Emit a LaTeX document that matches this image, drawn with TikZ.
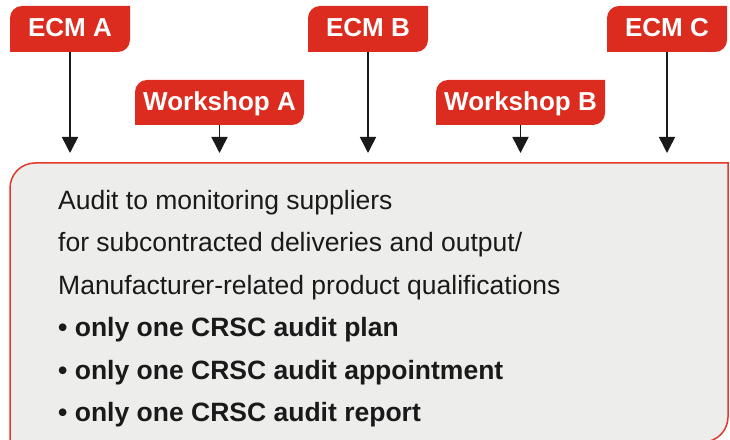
\documentclass[tikz,border=0pt]{standalone}
\usepackage{fontspec}
\setmainfont{Liberation Sans}
\usetikzlibrary{arrows.meta,calc}
\definecolor{tagred}{HTML}{DC2B1F}
\definecolor{boxred}{HTML}{E2372B}
\definecolor{boxfill}{HTML}{EDEDEB}
\definecolor{ink}{HTML}{1A1A1A}
\tikzset{
  tag/.style={rectangle, inner sep=0pt, outer sep=0pt, text=white,
    font=\fontsize{26}{30}\selectfont\bfseries, text height=18.6pt, text depth=3pt,
    path picture={
      \fill[tagred] (path picture bounding box.south west)
        -- ($(path picture bounding box.north west)+(0,-12)$)
        arc[start angle=180,end angle=90,radius=12]
        -- (path picture bounding box.north east)
        -- ($(path picture bounding box.south east)+(0,12)$)
        arc[start angle=0,end angle=-90,radius=12] -- cycle;}},
  ecmtag/.style={tag, minimum width=120, minimum height=46},
  wstag/.style={tag, minimum width=169, minimum height=45},
  feed/.style={draw=ink, line width=1.6pt, shorten >=10pt,
    -{Triangle[width=16pt,length=16pt]}},
  bodytext/.style={anchor=base west, inner sep=0pt, text=ink,
    font=\fontsize{26.5}{30}\selectfont},
  boldtext/.style={bodytext, font=\fontsize{26.5}{30}\selectfont\bfseries},
}
\begin{document}
\begin{tikzpicture}[x=1pt,y=1pt]
\useasboundingbox (0,0) rectangle (730,439);
\clip (0,0) rectangle (730,439);
% main box
\node[rectangle, minimum width=718, minimum height=279, inner sep=0pt, outer sep=0pt] (box) at (369,136.5) {};
\draw[boxred, line width=1.5pt, fill=boxfill] (box.south west)
  -- ($(box.north west)+(0,-25)$) arc[start angle=180,end angle=90,radius=25]
  -- (box.north east)
  -- ($(box.south east)+(0,25)$) arc[start angle=0,end angle=-90,radius=25]
  -- cycle;
% tags
\node[ecmtag] (ecmA) at (70,410) {ECM A};
\node[ecmtag] (ecmB) at (368,410) {ECM B};
\node[ecmtag] (ecmC) at (667,410) {ECM C};
\node[wstag] (wsA) at (219.5,336.5) {Workshop A};
\node[wstag] (wsB) at (520.5,336.5) {Workshop B};
% arrows
\foreach \n in {ecmA,ecmB,ecmC,wsA,wsB}
  \draw[feed] (\n.south) -- (\n.south |- box.north);
% text
\node[bodytext] (t1) at (58,229.5) {Audit to monitoring suppliers};
\node[bodytext] (t2) at (58,187.1) {for subcontracted deliveries and output/};
\node[bodytext] (t3) at (58,144.7) {Manufacturer-related product qualifications};
\node[boldtext] (t4) at (58,102.3) {• only one CRSC audit plan};
\node[boldtext] (t5) at (58,59.9) {• only one CRSC audit appointment};
\node[boldtext] (t6) at (58,17.5) {• only one CRSC audit report};
\end{tikzpicture}
\end{document}
